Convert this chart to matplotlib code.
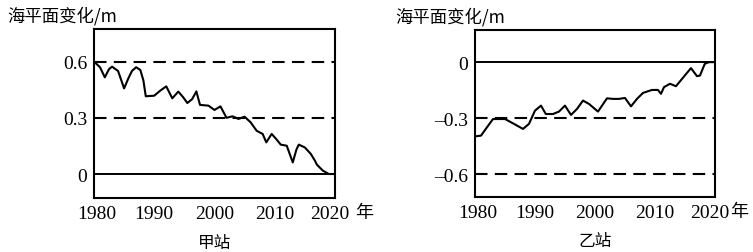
import numpy as np
import matplotlib
matplotlib.use("Agg")
import matplotlib.pyplot as plt
import matplotlib.transforms as mtransforms

# 甲站
years_a = [1980, 1981, 1981.8, 1982.5, 1983, 1984, 1985, 1985.7, 1986.3, 1987, 1987.7,
           1988.2, 1988.6, 1990, 1991, 1992, 1993, 1994, 1994.8, 1995.5, 1996.3, 1997,
           1997.6, 1999, 2000, 2001, 2002, 2003, 2004, 2005, 2006, 2007, 2008, 2008.6,
           2009.5, 2010.3, 2011, 2012, 2013, 2013.6, 2014, 2015, 2016, 2016.7, 2017,
           2018, 2019, 2020]
level_a = [0.60, 0.57, 0.516, 0.56, 0.573, 0.55, 0.457, 0.51, 0.55, 0.57, 0.555,
           0.50, 0.415, 0.418, 0.445, 0.468, 0.404, 0.44, 0.41, 0.379, 0.40, 0.441,
           0.369, 0.365, 0.342, 0.361, 0.30, 0.308, 0.294, 0.306, 0.276, 0.231, 0.214,
           0.169, 0.214, 0.185, 0.157, 0.151, 0.062, 0.13, 0.157, 0.142, 0.107, 0.07,
           0.05, 0.018, 0.0, 0.0]

# 乙站
years_b = [1980, 1981, 1982, 1983, 1985, 1986.5, 1988, 1989, 1990, 1991, 1991.8,
           1993, 1994, 1995, 1996, 1997, 1998, 1999, 2000.5, 2002, 2003, 2004,
           2005, 2006, 2007, 2008, 2009.5, 2010.5, 2011, 2011.5, 2012.5, 2013.5,
           2014.5, 2016, 2017, 2017.5, 2018.3, 2019, 2020]
level_b = [-0.398, -0.394, -0.349, -0.305, -0.305, -0.331, -0.358, -0.331, -0.26,
           -0.233, -0.278, -0.278, -0.265, -0.233, -0.283, -0.251, -0.206, -0.224,
           -0.265, -0.194, -0.197, -0.197, -0.192, -0.237, -0.197, -0.165, -0.149,
           -0.149, -0.17, -0.134, -0.116, -0.129, -0.09, -0.032, -0.075, -0.072,
           -0.009, 0.0, 0.0]

xticks = [1980, 1990, 2000, 2010, 2020]
yticks_a = [0, 0.3, 0.6]
yticks_b = [-0.6, -0.3, 0]
labels_a = ["0", "0.3", "0.6"]
labels_b = ["\u20130.6", "\u20130.3", "0"]

cjk = ["Noto Sans CJK SC", "DejaVu Sans"]
serif = "Liberation Serif"

fig = plt.figure(figsize=(7.53, 2.53), dpi=100)
ax1 = fig.add_axes([0.1248, 0.2134, 0.320, 0.668])
ax2 = fig.add_axes([0.6308, 0.2174, 0.3187, 0.662])


def draw(ax, x, y, yticks, ylabels, ylim, dashed, name, lx, nx):
    ax.plot(x, y, color="black", lw=1.5, solid_joinstyle="round")
    ax.axhline(0, color="black", lw=1.4)
    for d in dashed:
        ax.axhline(d, color="black", lw=1.5, dashes=(6, 3.5))
    ax.set_xlim(1980, 2020)
    ax.set_ylim(*ylim)
    ax.set_xticks(xticks)
    ax.set_xticklabels([str(t) for t in xticks], fontfamily=serif, fontsize=14)
    ax.set_yticks(yticks)
    ax.set_yticklabels(ylabels, fontfamily=serif, fontsize=14)
    ax.tick_params(length=0, pad=5)
    # nudge outer year labels inward a bit like the original
    labs = ax.get_xticklabels()
    labs[0].set_transform(labs[0].get_transform() +
                          mtransforms.ScaledTranslation(3 / 100, 0, fig.dpi_scale_trans))
    labs[-1].set_transform(labs[-1].get_transform() +
                           mtransforms.ScaledTranslation(-5 / 100, 0, fig.dpi_scale_trans))
    for s in ax.spines.values():
        s.set_linewidth(1.5)
    ax.text(nx, -0.085, "年", transform=ax.transAxes, fontsize=13,
            family=cjk, ha="left", va="center")
    ax.text(0.5, -0.262, name, transform=ax.transAxes, fontsize=12,
            family=cjk, ha="center", va="center")
    ax.text(lx, 1.08, "海平面变化/m", transform=ax.transAxes, fontsize=12.5,
            family=cjk, ha="left", va="center")


draw(ax1, years_a, level_a, yticks_a, labels_a, (-0.128, 0.774), [0.3, 0.6], "甲站", -0.36, 1.083)
draw(ax2, years_b, level_b, yticks_b, labels_b, (-0.723, 0.175), [-0.3, -0.6], "乙站", -0.333, 1.062)

fig.savefig("out.png", dpi=100)
